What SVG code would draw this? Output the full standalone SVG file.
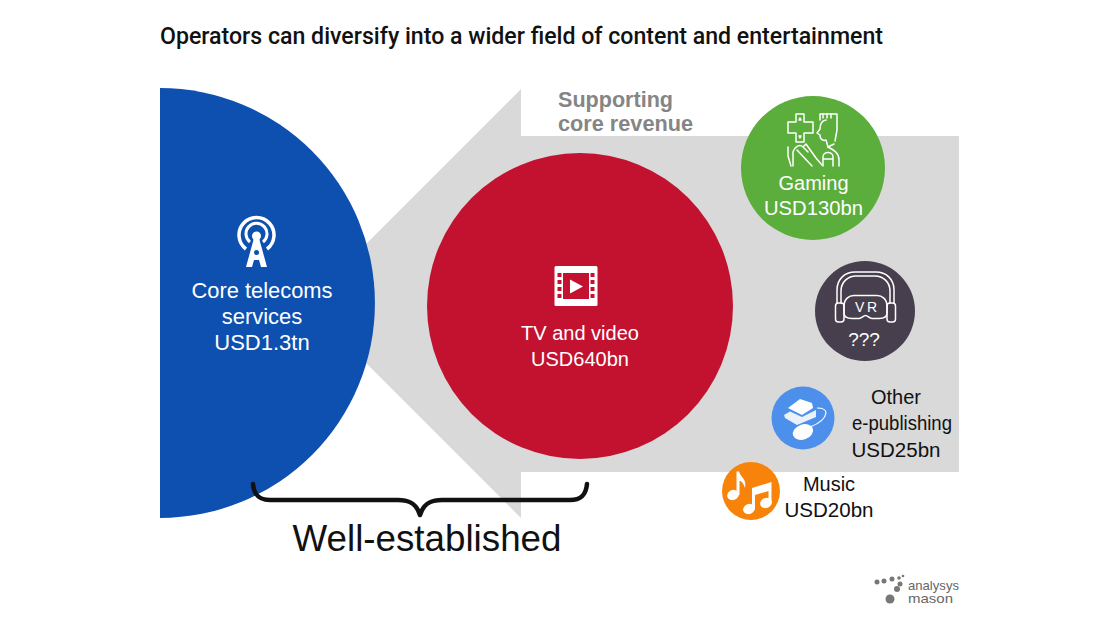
<svg xmlns="http://www.w3.org/2000/svg" width="1120" height="630" viewBox="0 0 1120 630">
<style>
text{font-family:"Liberation Sans",Arial,sans-serif;text-anchor:middle}
.w{fill:#fff;font-size:22px}
.t{fill:#fff;font-size:20px}
.k{fill:#111;font-size:20px}
.g{fill:#858585;font-size:22px;font-weight:bold;text-anchor:start}
.i{fill:none;stroke:#fff;stroke-width:1.500;stroke-linejoin:round;stroke-linecap:round}
.f{fill:#fff}
.d{fill:#777}
</style>
<rect width="1120" height="630" fill="#fff"/>
<text x="160" y="44" style="text-anchor:start;font-family:Roboto,'Liberation Sans',sans-serif;font-size:23px;font-weight:500;fill:#111" textLength="723" lengthAdjust="spacingAndGlyphs">Operators can diversify into a wider field of content and entertainment</text>
<g id="arrow">
<path d="M959 136H521V89L306.500 303.500L521 518V472H959Z" fill="#d9d9d9"/>
</g>
<g id="label-supporting">
<text class="g" x="558" y="107" textLength="115" lengthAdjust="spacingAndGlyphs">Supporting</text>
<text class="g" x="558" y="131" textLength="135" lengthAdjust="spacingAndGlyphs">core revenue</text>
</g>
<g id="node-core">
<path d="M160 88A215 215 0 0 1 160 518Z" fill="#0e50b0"/>
<g fill="none" stroke="#fff" stroke-width="3">
<path d="M246 249A17.500 17.500 0 1 1 267 249" stroke-width="3.500"/>
<path d="M250 242A10.500 10.500 0 1 1 263 242"/>
</g>
<circle cx="256.500" cy="236" r="4.500" class="f"/>
<path d="M254 238H259L267 267H261L259 260H254L252 267H246Z" class="f"/>
<circle cx="256.500" cy="252.500" r="2.500" fill="#0e50b0"/>
<text class="w" x="262" y="298" textLength="141" lengthAdjust="spacingAndGlyphs">Core telecoms</text>
<text class="w" x="262" y="324">services</text>
<text class="w" x="262" y="350">USD1.3tn</text>
</g>
<g id="node-tv">
<circle cx="580" cy="306" r="153" fill="#c2122f"/>
<rect x="554.500" y="266" width="43" height="40" rx="1.500" class="f"/>
<rect x="563" y="273" width="26" height="26" fill="#c2122f"/>
<path d="M570 279.500L583 286.500L570 293.500Z" class="f"/>
<path d="M557.500 273h4v4h-4zM557.500 280h4v4h-4zM557.500 287h4v4h-4zM557.500 294h4v4h-4zM590.500 273h4v4h-4zM590.500 280h4v4h-4zM590.500 287h4v4h-4zM590.500 294h4v4h-4z" fill="#c2122f"/>
<text class="t" x="580" y="340">TV and video</text>
<text class="t" x="580" y="366">USD640bn</text>
</g>
<g id="node-gaming">
<circle cx="813" cy="168" r="72" fill="#5bae3b"/>
<path class="i" d="M796 114H804V122H813V133H804V142H796V133H788V122H796Z"/>
<path class="i" d="M800 118l-1 2h2zM800 138l-1-2h2z"/>
<path class="i" d="M820 120V114H837V130L835 141"/>
<path class="i" d="M823 114V118M827 114V118M831 114V118"/>
<path class="i" d="M826 120C820 121 820 126 820 129L817 133L820 135C820 140 824 141 826 140L828 147L834 144"/>
<path class="i" d="M828 147C834 150 839 153 839 160V166M823 166V157C823 151 833 151 833 157V166M823 159H833"/>
<path class="i" d="M788 147V156L791 166M793 166V152C795 146 800 144 803 147L806 144L816 158L822 165M797 150L812 166M804 148L808 152"/>
<text class="t" x="813.500" y="190">Gaming</text>
<text class="t" x="813.500" y="215" textLength="99" lengthAdjust="spacingAndGlyphs">USD130bn</text>
</g>
<g id="node-vr">
<circle cx="865" cy="311" r="50" fill="#473f4d"/>
<path class="i" d="M837 303V290C837 279 845 272 855 272H876C886 272 894 279 894 290V303M841 303V291C841 282 848 276 856 276H875C883 276 890 282 890 291V303"/>
<rect x="835.500" y="303" width="8.500" height="19" rx="3" class="i"/>
<rect x="887" y="303" width="8.500" height="19" rx="3" class="i"/>
<path class="i" d="M844 306C844 299 849 295.500 854 295.500H877C882 295.500 887 299 887 306V313C887 317 883 318.500 879 318.500H872C869 318.500 868 315.500 865.500 315.500C863 315.500 862 318.500 859 318.500H852C848 318.500 844 317 844 313Z"/>
<text x="866" y="312" style="font-size:14px;fill:#fff" textLength="22" lengthAdjust="spacing">VR</text>
<text class="t" x="864" y="346" style="font-size:19px">???</text>
</g>
<g id="node-epublishing">
<circle cx="803" cy="418" r="31.500" fill="#4d90ec"/>
<path d="M788 408L800 399L812 403L813 408L802 415Z" class="f"/>
<path d="M784 415L790 411.500L802 417L816 410V417L797 425L785 418Z" fill="#eaf1fb"/>
<ellipse cx="803" cy="432" rx="10.500" ry="7.500" transform="rotate(-20 803 432)" class="f"/>
<path d="M810 427C818 424 825 420 826 413C826 409 822 408 817 408" fill="none" stroke="#fff" stroke-width="1.200"/>
<text class="k" x="896" y="404">Other</text>
<text class="k" x="902" y="430" textLength="100" lengthAdjust="spacingAndGlyphs">e-publishing</text>
<text class="k" x="896" y="457" textLength="89" lengthAdjust="spacingAndGlyphs">USD25bn</text>
</g>
<g id="node-music">
<circle cx="751" cy="491" r="29" fill="#f7830a"/>
<ellipse cx="733" cy="495" rx="6" ry="5" transform="rotate(-20 733 495)" class="f"/>
<path d="M736.500 495V471.500L739 471.500C741 478 747 479 745 488C743 482 741 481 739.500 481V495Z" class="f"/>
<ellipse cx="749" cy="509" rx="6" ry="5" transform="rotate(-20 749 509)" class="f"/>
<ellipse cx="766" cy="503" rx="6" ry="5" transform="rotate(-20 766 503)" class="f"/>
<path d="M752 509V488L771.500 482V503H768.500V491L755 495V509Z" class="f"/>
<text class="k" x="829" y="491">Music</text>
<text class="k" x="829" y="517" textLength="89" lengthAdjust="spacingAndGlyphs">USD20bn</text>
</g>
<g id="connectors">
<path id="brace" d="M253 484C254 495 259 500 270 500H398C411 500 417 505 420 515C423 505 429 500 442 500H570C581 500 586 495 587 484" fill="none" stroke="#111" stroke-width="4.500" stroke-linecap="round" stroke-linejoin="round"/>
</g>
<g id="label-established">
<text x="427" y="551" style="font-size:36px;fill:#111" textLength="269" lengthAdjust="spacingAndGlyphs">Well-established</text>
</g>
<g id="logo">
<circle cx="890" cy="599" r="4.500" class="d"/><circle cx="897" cy="589" r="3" class="d"/><circle cx="900" cy="584" r="2.500" class="d"/><circle cx="899" cy="578" r="1.800" class="d"/><circle cx="903" cy="576" r="1.300" class="d"/>
<circle cx="877" cy="582" r="2.500" class="d"/><circle cx="884" cy="581" r="2.500" class="d"/><circle cx="892" cy="579" r="2.500" class="d"/>
<text x="908" y="590" style="font-size:13px;fill:#666;text-anchor:start" textLength="51" lengthAdjust="spacingAndGlyphs">analysys</text>
<text x="908" y="603" style="font-size:13px;fill:#666;text-anchor:start" textLength="45" lengthAdjust="spacingAndGlyphs">mason</text>
</g>
</svg>
